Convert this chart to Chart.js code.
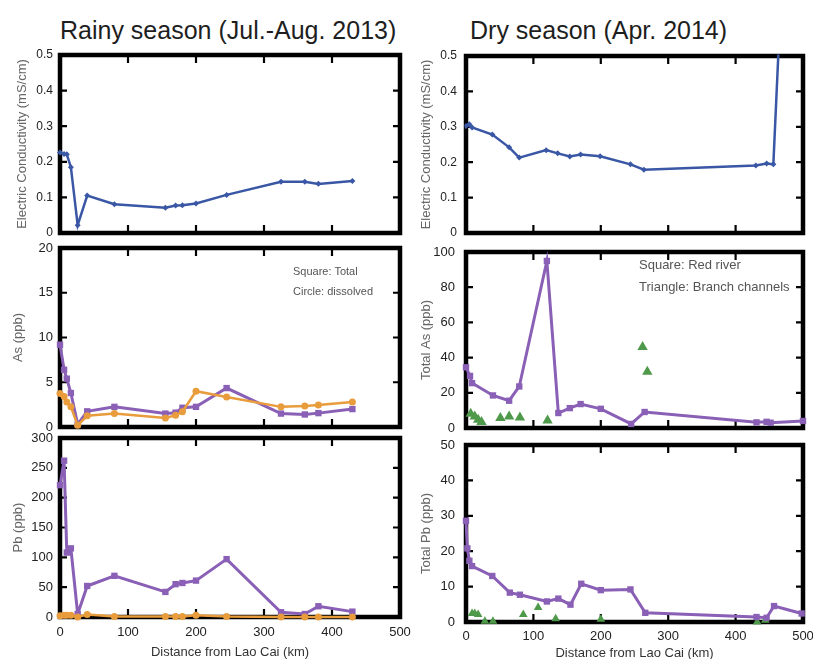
<!DOCTYPE html>
<html>
<head>
<meta charset="utf-8">
<script src="https://cdn.jsdelivr.net/npm/chart.js@4.4.1/dist/chart.umd.min.js"></script>
<style>
  html, body { margin: 0; padding: 0; background: #fff; width: 813px; height: 659px; overflow: hidden; }
  body { position: relative; font-family: "Liberation Sans", Arial, sans-serif; }
  canvas { position: absolute; }
  .title { position: absolute; font-size: 25px; line-height: 25px; color: #1e1e1e; white-space: nowrap; }
  .note { position: absolute; color: #555; white-space: nowrap; }
</style>
</head>
<body>
<div class="title" style="left:60px;top:18px">Rainy season (Jul.-Aug. 2013)</div>
<div class="title" style="left:470px;top:18px">Dry season (Apr. 2014)</div>

<canvas id="ecRainy"></canvas>
<canvas id="asRainy"></canvas>
<canvas id="pbRainy"></canvas>
<canvas id="ecDry"></canvas>
<canvas id="asDry"></canvas>
<canvas id="pbDry"></canvas>

<div class="note" style="left:293px;top:265px;font-size:11px;line-height:13px">Square: Total</div>
<div class="note" style="left:293px;top:285px;font-size:11px;line-height:13px">Circle: dissolved</div>
<div class="note" style="left:639px;top:257px;font-size:13px;line-height:15px">Square: Red river</div>
<div class="note" style="left:639px;top:279px;font-size:13px;line-height:15px">Triangle: Branch channels</div>

<script>
// rainy season (Jul.-Aug. 2013), distance from Lao Cai in km
const rainyKm = [0, 6, 10, 16, 26, 40, 80, 155, 170, 180, 200, 245, 325, 360, 380, 430];
const rainyEc = [0.226, 0.222, 0.221, 0.185, 0.022, 0.105, 0.081, 0.071, 0.077, 0.078, 0.083, 0.107, 0.144, 0.144, 0.138, 0.146];
const rainyAsTotal = [9.2, 6.4, 5.4, 3.8, 0.3, 1.75, 2.25, 1.5, 1.6, 2.15, 2.25, 4.35, 1.5, 1.4, 1.55, 2.0];
const rainyAsDiss = [3.75, 3.4, 2.8, 2.25, 0.2, 1.25, 1.5, 1.0, 1.3, 1.7, 4.0, 3.35, 2.25, 2.35, 2.45, 2.8];
const rainyPbTotal = [221, 262, 108, 115, 5, 52, 69, 42, 55, 57, 61, 97, 8, 5, 18, 9];
const rainyPbDiss = [2, 3, 3, 3, 0, 4, 1, 1, 1, 1, 3, 1, 0, 0, 0, 0];

// dry season (Apr. 2014)
const dryEcKm = [0, 5, 9, 39, 64, 79, 119, 136, 154, 170, 199, 244, 264, 430, 446, 456, 480];
const dryEc = [0.302, 0.307, 0.298, 0.278, 0.242, 0.213, 0.234, 0.225, 0.216, 0.222, 0.217, 0.194, 0.179, 0.191, 0.196, 0.194, 1.2];
const dryAsKm = [0, 6, 9, 40, 64, 79, 120, 137, 154, 170, 200, 245, 265, 431, 446, 452, 500];
const dryAs = [34.5, 29.6, 25.5, 18.5, 15.5, 23.6, 94.9, 8.5, 11.3, 13.6, 10.9, 2.3, 9.1, 3.2, 3.5, 3.0, 4.0];
const dryPbKm = [0, 2, 5, 9, 39, 65, 80, 120, 137, 155, 171, 200, 244, 266, 431, 446, 457, 498];
const dryPb = [28.6, 20.8, 17.3, 15.8, 13.0, 8.3, 7.7, 5.8, 6.6, 4.9, 10.8, 9.0, 9.2, 2.6, 1.4, 1.2, 4.5, 2.4];
const branchAsKm = [7, 13, 18, 23, 51, 64, 80, 121, 262, 269];
const branchAs = [8.1, 6.6, 4.7, 3.4, 5.7, 6.6, 6.0, 4.2, 46, 32];
const branchPbKm = [9, 13, 18, 28, 40, 85, 107, 133, 200, 432, 444];
const branchPb = [2.4, 2.4, 2.1, 0.2, 0.2, 2.1, 4.1, 0.9, 0.8, 0, 0.5];

const xTitle = 'Distance from Lao Cai (km)';

const BLUE = '#3a57a6';
const PURPLE = '#8a5fb6';
const ORANGE = '#e89c3c';
const GREEN = '#4f9a4a';

Chart.defaults.font.family = '"Liberation Sans", Arial, sans-serif';

function pts(xs, ys) {
  return xs.map((x, i) => ({ x: x, y: ys[i] }));
}

function lineSet(xs, ys, color, style, radius, width, clip) {
  return {
    data: pts(xs, ys),
    showLine: true,
    borderColor: color,
    backgroundColor: color,
    borderWidth: width,
    pointStyle: style,
    pointRadius: radius,
    pointBorderWidth: 0,
    clip: clip
  };
}

function markSet(xs, ys, color, radius) {
  return {
    data: pts(xs, ys),
    showLine: false,
    backgroundColor: color,
    borderColor: color,
    pointStyle: 'triangle',
    pointRadius: radius,
    pointBorderWidth: 0,
    clip: 10
  };
}

// thick black box with inward ticks on every side
const frame = {
  id: 'frame',
  beforeDatasetsDraw(chart) {
    const ctx = chart.ctx;
    const a = chart.chartArea;
    const x = chart.scales.x, y = chart.scales.y;
    ctx.save();
    ctx.strokeStyle = '#000';
    ctx.lineWidth = 2.2;
    ctx.beginPath();
    x.ticks.forEach(t => {
      if (t.value <= x.min || t.value >= x.max) return;
      const px = x.getPixelForValue(t.value);
      ctx.moveTo(px, a.top); ctx.lineTo(px, a.top + 8);
      ctx.moveTo(px, a.bottom); ctx.lineTo(px, a.bottom - 8);
    });
    y.ticks.forEach(t => {
      if (t.value <= y.min || t.value >= y.max) return;
      const py = y.getPixelForValue(t.value);
      ctx.moveTo(a.left, py); ctx.lineTo(a.left + 7, py);
      ctx.moveTo(a.right, py); ctx.lineTo(a.right - 7, py);
    });
    ctx.stroke();
    ctx.lineWidth = 4.5;
    ctx.strokeRect(a.left, a.top, a.right - a.left, a.bottom - a.top);
    ctx.restore();
  }
};

function panel(p) {
  const el = document.getElementById(p.id);
  const [bx, by, bw, bh] = p.box;
  const [l, t, r, b] = p.area;
  el.width = bw; el.height = bh;
  el.style.left = bx + 'px'; el.style.top = by + 'px';
  el.style.width = bw + 'px'; el.style.height = bh + 'px';
  const yW = l - bx;
  const xH = by + bh - b;
  new Chart(el, {
    type: 'scatter',
    data: { datasets: p.datasets },
    options: {
      responsive: false,
      animation: false,
      devicePixelRatio: 1,
      layout: { padding: { left: 0, top: t - by, right: bx + bw - r, bottom: 0 } },
      plugins: { legend: { display: false }, tooltip: { enabled: false } },
      scales: {
        x: {
          type: 'linear', min: 0, max: 500,
          ticks: { stepSize: 100, display: !!p.showX, padding: p.xPad || 8, color: '#222', font: { size: 13 } },
          grid: { display: false, drawTicks: false },
          border: { display: false },
          title: { display: !!p.showX, text: xTitle, color: '#333', font: { size: 13 }, padding: { top: 0, bottom: p.xTitlePad || 10 } },
          afterFit: s => { s.height = xH; s.paddingLeft = 0; s.paddingRight = 0; }
        },
        y: {
          min: 0, max: p.yMax,
          ticks: { stepSize: p.yStep, padding: p.yPad, color: '#222', font: { size: p.yFont } },
          grid: { display: false, drawTicks: false },
          border: { display: false },
          title: { display: true, text: p.yTitle, color: '#666', font: { size: 13 }, padding: { top: p.yTitlePad, bottom: 0 } },
          afterFit: s => { s.width = yW; s.paddingTop = 0; s.paddingBottom = 0; }
        }
      }
    },
    plugins: [frame]
  });
}

// left column: rainy season
panel({
  id: 'ecRainy', box: [0, 35, 415, 205], area: [60, 55, 400, 233],
  yMax: 0.5, yStep: 0.1, yFont: 12, yPad: 7, yTitle: 'Electric Conductivity (mS/cm)', yTitlePad: 15,
  datasets: [lineSet(rainyKm, rainyEc, BLUE, 'rectRot', 3, 2.5, 4)]
});
panel({
  id: 'asRainy', box: [0, 236, 415, 200], area: [60, 248, 400, 427],
  yMax: 20, yStep: 5, yFont: 13, yPad: 7, yTitle: 'As (ppb)', yTitlePad: 11,
  datasets: [
    lineSet(rainyKm, rainyAsDiss, ORANGE, 'circle', 3.5, 2.5, 10),
    lineSet(rainyKm, rainyAsTotal, PURPLE, 'rect', 4.5, 3, 10)
  ]
});
panel({
  id: 'pbRainy', box: [0, 428, 415, 242], area: [60, 438, 400, 617],
  yMax: 300, yStep: 50, yFont: 13, yPad: 7, yTitle: 'Pb (ppb)', yTitlePad: 11,
  showX: true, xPad: 8, xTitlePad: 10,
  datasets: [
    lineSet(rainyKm, rainyPbDiss, ORANGE, 'circle', 3.5, 2.5, 10),
    lineSet(rainyKm, rainyPbTotal, PURPLE, 'rect', 4.5, 3, 10)
  ]
});

// right column: dry season
panel({
  id: 'ecDry', box: [405, 35, 408, 205], area: [466, 56, 803, 233],
  yMax: 0.5, yStep: 0.1, yFont: 12, yPad: 9, yTitle: 'Electric Conductivity (mS/cm)', yTitlePad: 14,
  datasets: [lineSet(dryEcKm, dryEc, BLUE, 'rectRot', 3, 2.5, 1.5)]
});
panel({
  id: 'asDry', box: [405, 238, 408, 198], area: [466, 252, 803, 428],
  yMax: 100, yStep: 20, yFont: 13, yPad: 11, yTitle: 'Total As (ppb)', yTitlePad: 14,
  datasets: [
    lineSet(dryAsKm, dryAs, PURPLE, 'rect', 4.5, 3, 10),
    markSet(branchAsKm, branchAs, GREEN, 6)
  ]
});
panel({
  id: 'pbDry', box: [405, 432, 408, 238], area: [466, 445, 803, 622],
  yMax: 50, yStep: 10, yFont: 13, yPad: 11, yTitle: 'Total Pb (ppb)', yTitlePad: 14,
  showX: true, xPad: 7, xTitlePad: 9,
  datasets: [
    lineSet(dryPbKm, dryPb, PURPLE, 'rect', 4.5, 3, 10),
    markSet(branchPbKm, branchPb, GREEN, 5)
  ]
});
</script>
</body>
</html>
